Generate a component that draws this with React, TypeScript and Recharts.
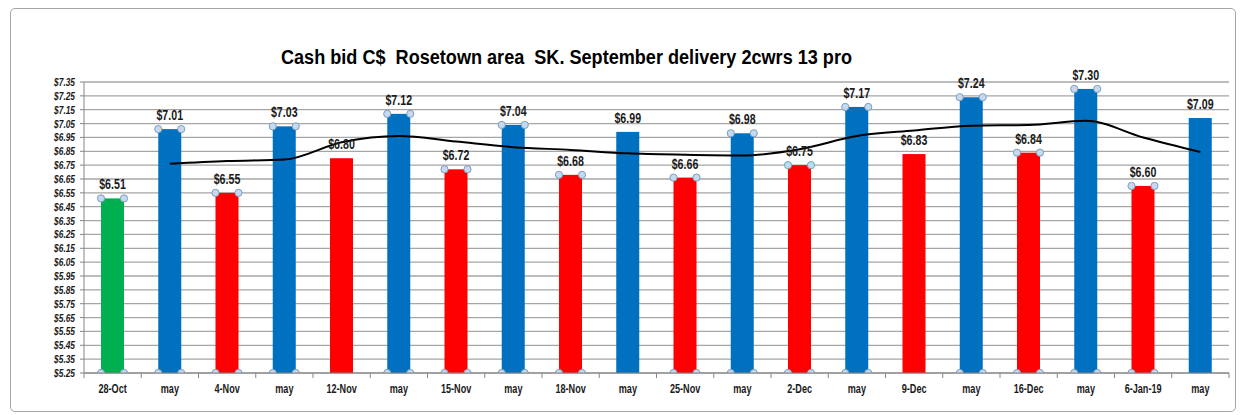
import { ComposedChart, Bar, Line, XAxis, YAxis, CartesianGrid, Cell, LabelList } from 'recharts'

const categories = [
  '28-Oct', 'may', '4-Nov', 'may', '12-Nov', 'may', '15-Nov', 'may', '18-Nov', 'may',
  '25-Nov', 'may', '2-Dec', 'may', '9-Dec', 'may', '16-Dec', 'may', '6-Jan-19', 'may',
]
const bids = [
  6.51, 7.01, 6.55, 7.03, 6.8, 7.12, 6.72, 7.04, 6.68, 6.99,
  6.66, 6.98, 6.75, 7.17, 6.83, 7.24, 6.84, 7.3, 6.6, 7.09,
]
const trend = [
  null, 6.76, 6.78, 6.79, 6.915, 6.96, 6.92, 6.88, 6.86, 6.835,
  6.825, 6.82, 6.865, 6.96, 7.0, 7.035, 7.04, 7.07, 6.95, 6.845,
]
// bars that show the excel selection handles
const selected = [
  true, true, true, true, false, true, true, true, true, false,
  true, true, true, true, false, true, true, true, true, false,
]
const yTicks = [
  5.25, 5.35, 5.45, 5.55, 5.65, 5.75, 5.85, 5.95, 6.05, 6.15, 6.25,
  6.35, 6.45, 6.55, 6.65, 6.75, 6.85, 6.95, 7.05, 7.15, 7.25, 7.35,
]

const data = categories.map((name, i) => ({
  name,
  bid: bids[i],
  trend: trend[i],
  selected: selected[i],
}))

const W = 1243
const H = 415
const PLOT_LEFT = 84
const PLOT_RIGHT = 1229
const BAND = (PLOT_RIGHT - PLOT_LEFT) / categories.length
const FONT = '"Liberation Sans", Arial, sans-serif'
const SQUEEZE = 0.76

const money = (v: number) => `$${v.toFixed(2)}`

function barColor(name: string, i: number) {
  if (i === 0) return '#00b050'
  return name === 'may' ? '#0070c0' : '#ff0000'
}

function BarShape(props: any) {
  const { x, y, width, height, fill, payload } = props
  const handle = (cx: number, cy: number, k: string) => (
    <circle key={k} cx={cx} cy={cy} r={3.6} fill="#c5d9f1" stroke="#7f9db9" strokeWidth={1} />
  )
  return (
    <g>
      <rect x={x} y={y} width={width} height={height} fill={fill} />
      {payload.selected && [
        handle(x, y, 'a'),
        handle(x + width, y, 'b'),
        handle(x, y + height, 'c'),
        handle(x + width, y + height, 'd'),
      ]}
    </g>
  )
}

function Narrow({ x, y, anchor, size, italic, children }: any) {
  return (
    <text
      transform={`translate(${x},${y}) scale(${SQUEEZE},1)`}
      textAnchor={anchor}
      fontFamily={FONT}
      fontWeight="bold"
      fontStyle={italic ? 'italic' : 'normal'}
      fontSize={size}
      fill="#1a1a1a"
    >
      {children}
    </text>
  )
}

function XTick(props: any) {
  const { x, y, payload, index } = props
  const left = x - BAND / 2
  return (
    <g>
      <line x1={left} y1={y} x2={left} y2={y + 5} stroke="#868686" />
      {index === categories.length - 1 && (
        <line x1={x + BAND / 2} y1={y} x2={x + BAND / 2} y2={y + 5} stroke="#868686" />
      )}
      <Narrow x={x} y={y + 20} anchor="middle" size={12}>
        {payload.value}
      </Narrow>
    </g>
  )
}

function YTick(props: any) {
  const { x, y, payload } = props
  return (
    <Narrow x={x} y={y + 4} anchor="end" size={11} italic>
      {money(payload.value)}
    </Narrow>
  )
}

function BarLabel(props: any) {
  const { x, y, width, value } = props
  return (
    <Narrow x={x + width / 2} y={y - 9} anchor="middle" size={14}>
      {money(Number(value))}
    </Narrow>
  )
}

export default function App() {
  return (
    <div style={{ position: 'absolute', left: 0, top: 0, width: W, height: H, background: '#fff' }}>
      <div
        style={{
          position: 'absolute',
          left: 10,
          top: 8,
          width: 1226,
          height: 404,
          border: '1px solid #a6a6a6',
          borderRadius: 5,
          boxSizing: 'border-box',
        }}
      />
      <svg style={{ position: 'absolute', left: 0, top: 0 }} width={W} height={80}>
        <text
          x={281}
          y={64}
          textLength={571}
          lengthAdjust="spacingAndGlyphs"
          fontFamily={FONT}
          fontWeight="bold"
          fontSize={20}
          fill="#000"
          style={{ whiteSpace: 'pre' }}
        >
          Cash bid C$  Rosetown area  SK. September delivery 2cwrs 13 pro
        </text>
      </svg>
      <div style={{ position: 'absolute', left: 0, top: 0 }}>
        <ComposedChart
          width={W}
          height={H}
          data={data}
          margin={{ top: 82, right: W - PLOT_RIGHT, bottom: 0, left: 0 }}
          barCategoryGap={0}
        >
          <CartesianGrid vertical={false} stroke="#a6a6a6" strokeWidth={1.3} />
          <XAxis
            dataKey="name"
            height={42}
            tickLine={false}
            tickSize={0}
            tickMargin={0}
            axisLine={{ stroke: '#868686' }}
            interval={0}
            tick={<XTick />}
          />
          <YAxis
            width={PLOT_LEFT}
            domain={[5.25, 7.35]}
            ticks={yTicks}
            interval={0}
            allowDataOverflow
            axisLine={{ stroke: '#868686' }}
            tickLine={{ stroke: '#868686' }}
            tickSize={4}
            tickMargin={5}
            tick={<YTick />}
          />
          <Bar dataKey="bid" barSize={23} isAnimationActive={false} shape={<BarShape />}>
            {data.map((d, i) => (
              <Cell key={`c-${i}`} fill={barColor(d.name, i)} />
            ))}
            <LabelList dataKey="bid" content={<BarLabel />} />
          </Bar>
          <Line
            dataKey="trend"
            type="monotone"
            stroke="#000"
            strokeWidth={2}
            dot={false}
            connectNulls
            isAnimationActive={false}
          />
        </ComposedChart>
      </div>
    </div>
  )
}
